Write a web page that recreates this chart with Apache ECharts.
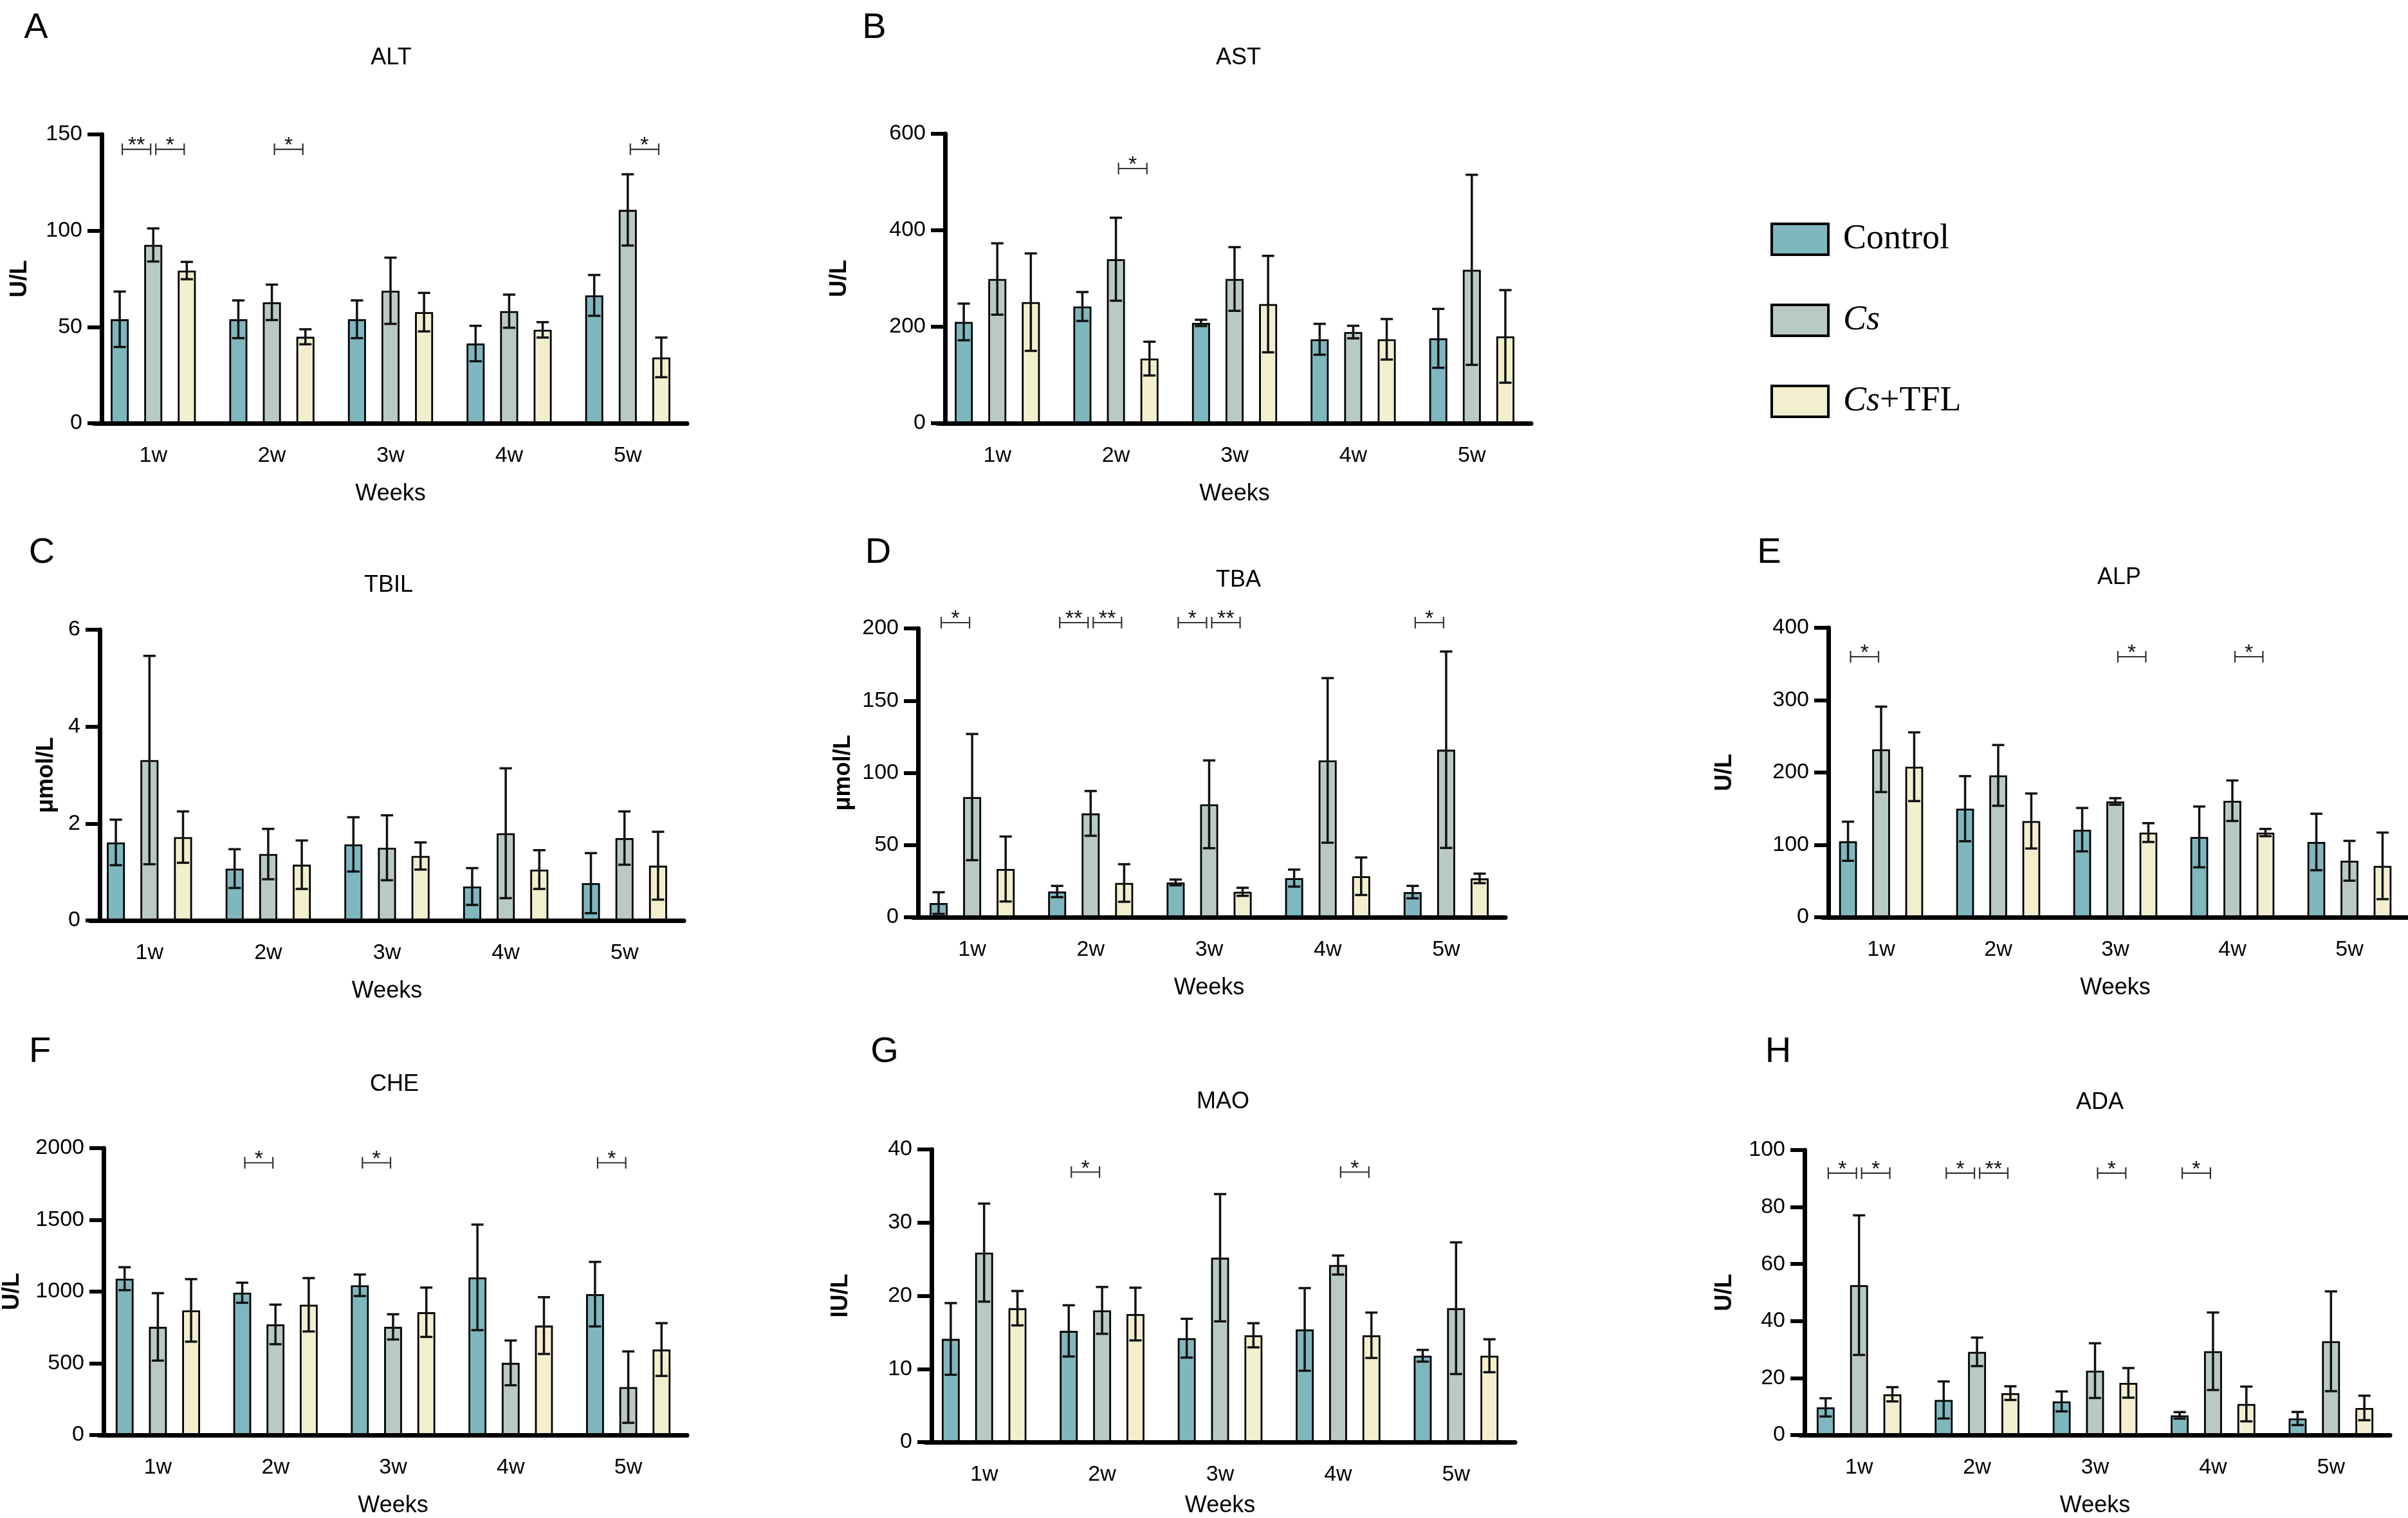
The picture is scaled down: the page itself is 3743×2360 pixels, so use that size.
<!DOCTYPE html>
<html>
<head>
<meta charset="utf-8">
<title>Serum liver indices by week</title>
<script src="https://cdn.jsdelivr.net/npm/echarts@6/dist/echarts.min.js"></script>
<style>
  html, body { margin: 0; padding: 0; background: #fff; }
  #chart { width: 3743px; height: 2360px; }
</style>
</head>
<body>
<div id="chart"></div>
<script>
const weeks = ['1w', '2w', '3w', '4w', '5w'];
const groups = ['Control', 'Cs', 'Cs+TFL'];

// mean and SD per group, one value per week
const altControl = [54, 54, 54, 41.4, 66.4];
const altControlSd = [14.4, 9.8, 9.8, 9.2, 10.6];
const altCs = [92.6, 62.8, 68.8, 58.2, 110.8];
const altCsSd = [8.6, 9.2, 17.2, 8.6, 18.5];
const altTfl = [79.3, 44.9, 57.7, 48.5, 34.2];
const altTflSd = [4.5, 3.9, 10, 4, 10.3];

const astControl = [210, 242, 208, 174, 176];
const astControlSd = [38, 30, 6.5, 32, 61];
const astCs = [299, 340, 299, 189, 318];
const astCsSd = [74, 86, 66, 13, 197];
const astTfl = [251, 134, 247, 174, 180];
const astTflSd = [101, 35, 100, 42, 96];

const tbilControl = [1.61, 1.07, 1.57, 0.70, 0.77];
const tbilControlSd = [0.47, 0.40, 0.56, 0.38, 0.62];
const tbilCs = [3.31, 1.37, 1.50, 1.80, 1.70];
const tbilCsSd = [2.15, 0.52, 0.67, 1.34, 0.55];
const tbilTfl = [1.72, 1.15, 1.33, 1.05, 1.13];
const tbilTflSd = [0.53, 0.50, 0.28, 0.40, 0.70];

const tbaControl = [9.8, 17.8, 24.1, 27.1, 17.4];
const tbaControlSd = [7.5, 3.9, 2, 5.9, 4.3];
const tbaCs = [83.2, 71.9, 78.2, 108.6, 116];
const tbaCsSd = [43.7, 15.5, 30.4, 57, 68];
const tbaTfl = [33.4, 23.7, 17.6, 28.4, 26.9];
const tbaTflSd = [22.5, 13, 2.8, 13, 3.3];

const alpControl = [105, 150, 121, 111, 104];
const alpControlSd = [27, 45, 30, 42, 39];
const alpCs = [232, 196, 160, 161, 78];
const alpCsSd = [59, 42, 4.5, 28, 27.5];
const alpTfl = [208, 133, 117, 117, 71];
const alpTflSd = [47.5, 38, 13, 5, 46];

const cheControl = [1090, 992, 1044, 1099, 982];
const cheControlSd = [80, 70, 75, 368, 225];
const cheCs = [754, 771, 754, 503, 334];
const cheCsSd = [235, 138, 88, 156, 249];
const cheTfl = [869, 908, 856, 763, 596];
const cheTflSd = [218, 186, 172, 198, 184];

const maoControl = [14.1, 15.2, 14.2, 15.4, 11.8];
const maoControlSd = [4.9, 3.5, 2.65, 5.65, 0.8];
const maoCs = [25.9, 18.0, 25.2, 24.2, 18.3];
const maoCsSd = [6.7, 3.2, 8.7, 1.3, 9];
const maoTfl = [18.3, 17.5, 14.6, 14.6, 11.8];
const maoTflSd = [2.35, 3.6, 1.65, 3.1, 2.25];

const adaControl = [9.7, 12.3, 11.8, 6.9, 5.8];
const adaControlSd = [3.2, 6.5, 3.5, 1.15, 2.3];
const adaCs = [52.6, 29.2, 22.6, 29.4, 32.9];
const adaCsSd = [24.5, 5, 9.6, 13.6, 17.5];
const adaTfl = [14.3, 14.7, 18.3, 10.9, 9.5];
const adaTflSd = [2.5, 2.4, 5.2, 6.1, 4.3];

// significance: [week, fromGroup, toGroup, stars]
const altSig = [[0, 0, 1, 2], [0, 1, 2, 1], [1, 1, 2, 1], [4, 1, 2, 1]];
const astSig = [[1, 1, 2, 1]];
const tbilSig = [];
const tbaSig = [[0, 0, 1, 1], [1, 0, 1, 2], [1, 1, 2, 2], [2, 0, 1, 1], [2, 1, 2, 2], [4, 0, 1, 1]];
const alpSig = [[0, 0, 1, 1], [2, 1, 2, 1], [3, 1, 2, 1]];
const cheSig = [[1, 0, 1, 1], [2, 0, 1, 1], [4, 0, 1, 1]];
const maoSig = [[1, 0, 1, 1], [3, 1, 2, 1]];
const adaSig = [[0, 0, 1, 1], [0, 1, 2, 1], [1, 0, 1, 1], [1, 1, 2, 2], [2, 1, 2, 1], [3, 0, 1, 1]];

const SANS = 'Liberation Sans, Arial, Helvetica, sans-serif';
const SERIF = 'Liberation Serif, Times New Roman, serif';
const colors = ['#7fb7be', '#b8cac2', '#f2efcf'];
const BAR_W = 0.152;
const BAR_GAP = 0.86;
const BAR_STEP = BAR_W * (1 + BAR_GAP);

const panels = [
  {letter: 'A', title: 'ALT', unit: 'U/L', max: 150, step: 50,
   means: [altControl, altCs, altTfl], sds: [altControlSd, altCsSd, altTflSd], sig: altSig, sigAt: 142.3,
   box: [146, 209, 922, 449], shift: -12, gapY: 109, gapX: 92, letterAt: [56, 44], titleAt: [608, 90]},
  {letter: 'B', title: 'AST', unit: 'U/L', max: 600, step: 200,
   means: [astControl, astCs, astTfl], sds: [astControlSd, astCsSd, astTflSd], sig: astSig, sigAt: 528,
   box: [1458, 208, 922, 450], shift: -11, gapY: 146, gapX: 92, letterAt: [1359, 44], titleAt: [1925, 90]},
  {letter: 'C', title: 'TBIL', unit: 'μmol/L', max: 6, step: 2,
   means: [tbilControl, tbilCs, tbilTfl], sds: [tbilControlSd, tbilCsSd, tbilTflSd], sig: tbilSig, sigAt: 6,
   box: [140, 979, 923, 452], shift: -15, gapY: 65, gapX: 92, letterAt: [65, 860], titleAt: [604, 910]},
  {letter: 'D', title: 'TBA', unit: 'μmol/L', max: 200, step: 50,
   means: [tbaControl, tbaCs, tbaTfl], sds: [tbaControlSd, tbaCsSd, tbaTflSd], sig: tbaSig, sigAt: 204,
   box: [1419, 977, 921, 449], shift: -8, gapY: 98, gapX: 92, letterAt: [1365, 860], titleAt: [1925, 902]},
  {letter: 'E', title: 'ALP', unit: 'U/L', max: 400, step: 100,
   means: [alpControl, alpCs, alpTfl], sds: [alpControlSd, alpCsSd, alpTflSd], sig: alpSig, sigAt: 360,
   box: [2833, 976, 921, 450], shift: -9, gapY: 143, gapX: 92, letterAt: [2750, 860], titleAt: [3294, 898]},
  {letter: 'F', title: 'CHE', unit: 'U/L', max: 2000, step: 500,
   means: [cheControl, cheCs, cheTfl], sds: [cheControlSd, cheCsSd, cheTflSd], sig: cheSig, sigAt: 1898,
   box: [153, 1785, 915, 451], shift: -7, gapY: 124, gapX: 92, letterAt: [62, 1636], titleAt: [613, 1686]},
  {letter: 'G', title: 'MAO', unit: 'IU/L', max: 40, step: 10,
   means: [maoControl, maoCs, maoTfl], sds: [maoControlSd, maoCsSd, maoTflSd], sig: maoSig, sigAt: 36.9,
   box: [1438, 1787, 917, 458], shift: -10, gapY: 123, gapX: 81, letterAt: [1375, 1636], titleAt: [1901, 1713]},
  {letter: 'H', title: 'ADA', unit: 'U/L', max: 100, step: 20,
   means: [adaControl, adaCs, adaTfl], sds: [adaControlSd, adaCsSd, adaTflSd], sig: adaSig, sigAt: 91.9,
   box: [2798, 1788, 917, 451], shift: -7, gapY: 106, gapX: 92, letterAt: [2764, 1636], titleAt: [3264, 1714]}
];

function drawErrorBar(params, api) {
  const cat = api.value(0), grp = api.value(1), mean = api.value(2), sd = api.value(3);
  const band = api.size([1, 0])[0];
  const dx = (grp - 1) * band * BAR_STEP;
  const hi = api.coord([cat, mean + sd]);
  const lo = api.coord([cat, Math.max(mean - sd, 0)]);
  const x = hi[0] + dx;
  const cap = band * 0.052;
  const style = {stroke: '#111', lineWidth: 3.5};
  return {
    type: 'group',
    children: [
      {type: 'line', shape: {x1: x, y1: hi[1], x2: x, y2: lo[1]}, style: style},
      {type: 'line', shape: {x1: x - cap, y1: hi[1], x2: x + cap, y2: hi[1]}, style: style},
      {type: 'line', shape: {x1: x - cap, y1: lo[1], x2: x + cap, y2: lo[1]}, style: style}
    ]
  };
}

function drawBracket(params, api) {
  const cat = api.value(0), from = api.value(1), to = api.value(2), level = api.value(3), stars = api.value(4);
  const band = api.size([1, 0])[0];
  const c = api.coord([cat, level]);
  const x1 = c[0] + (from - 1) * band * BAR_STEP + 4;
  const x2 = c[0] + (to - 1) * band * BAR_STEP - 4;
  const y = c[1];
  const style = {stroke: '#333', lineWidth: 2.2};
  return {
    type: 'group',
    children: [
      {type: 'line', shape: {x1: x1, y1: y, x2: x2, y2: y}, style: style},
      {type: 'line', shape: {x1: x1, y1: y - 9, x2: x1, y2: y + 9}, style: style},
      {type: 'line', shape: {x1: x2, y1: y - 9, x2: x2, y2: y + 9}, style: style},
      {type: 'text', x: (x1 + x2) / 2, y: y - 5, style: {
        text: '*'.repeat(stars), fontSize: 34, fontFamily: SANS, fill: '#111',
        align: 'center', verticalAlign: 'middle', textAlign: 'center', textVerticalAlign: 'middle'
      }}
    ]
  };
}

const grid = [], xAxis = [], yAxis = [], series = [], graphic = [];

panels.forEach(function (p, i) {
  grid.push({left: p.box[0], top: p.box[1], width: p.box[2], height: p.box[3]});
  xAxis.push({
    type: 'category', gridIndex: i, data: weeks, z: 10,
    name: 'Weeks', nameLocation: 'middle', nameGap: p.gapX,
    nameTextStyle: {fontSize: 36, fontFamily: SANS, color: '#000'},
    axisLine: {lineStyle: {color: '#000', width: 7}},
    axisTick: {alignWithLabel: true, length: 20, lineStyle: {color: '#000', width: 7}},
    axisLabel: {fontSize: 34, fontFamily: SANS, color: '#000', margin: 34},
    splitLine: {show: false}
  });
  yAxis.push({
    type: 'value', gridIndex: i, min: 0, max: p.max, interval: p.step, offset: p.shift, z: 10,
    name: p.unit, nameLocation: 'middle', nameRotate: 90, nameGap: p.gapY,
    nameTextStyle: {fontSize: 36, fontWeight: 'bold', fontFamily: SANS, color: '#000'},
    axisLine: {show: true, lineStyle: {color: '#000', width: 7}},
    axisTick: {show: true, length: 22, lineStyle: {color: '#000', width: 6}},
    axisLabel: {fontSize: 34, fontFamily: SANS, color: '#000', margin: 30,
      formatter: function (v) { return String(v); }},
    splitLine: {show: false}
  });

  const errRows = [];
  groups.forEach(function (g, k) {
    series.push({
      type: 'bar', name: g, xAxisIndex: i, yAxisIndex: i,
      data: p.means[k], barWidth: (BAR_W * 100) + '%', barGap: (BAR_GAP * 100) + '%',
      itemStyle: {color: colors[k], borderColor: '#000', borderWidth: 2.8},
      emphasis: {disabled: true}, silent: true
    });
    p.means[k].forEach(function (m, w) {
      errRows.push([w, k, m, p.sds[k][w]]);
    });
  });

  series.push({
    type: 'custom', xAxisIndex: i, yAxisIndex: i, z: 5, silent: true,
    renderItem: drawErrorBar, encode: {x: 0, y: 2}, data: errRows
  });

  if (p.sig.length) {
    series.push({
      type: 'custom', xAxisIndex: i, yAxisIndex: i, z: 6, silent: true, clip: false,
      renderItem: drawBracket, encode: {x: 0, y: 3},
      data: p.sig.map(function (s) { return [s[0], s[1], s[2], p.sigAt, s[3]]; })
    });
  }

  graphic.push({
    type: 'text', x: p.letterAt[0], y: p.letterAt[1],
    style: {text: p.letter, fontSize: 56, fontFamily: SANS, fill: '#000',
      align: 'center', verticalAlign: 'middle', textAlign: 'center', textVerticalAlign: 'middle'}
  });
  graphic.push({
    type: 'text', x: p.titleAt[0], y: p.titleAt[1],
    style: {text: p.title, fontSize: 36, fontFamily: SANS, fill: '#000',
      align: 'center', verticalAlign: 'middle', textAlign: 'center', textVerticalAlign: 'middle'}
  });
});

const chart = echarts.init(document.getElementById('chart'), null, {renderer: 'canvas'});
chart.setOption({
  backgroundColor: '#fff',
  animation: false,
  grid: grid,
  xAxis: xAxis,
  yAxis: yAxis,
  series: series,
  graphic: graphic,
  legend: {
    data: groups, orient: 'vertical', left: 2747, top: 340,
    icon: 'rect', itemWidth: 88, itemHeight: 48, itemGap: 72, selectedMode: false,
    itemStyle: {borderColor: '#000', borderWidth: 4},
    formatter: function (name) { return name.replace('Cs', '{i|Cs}'); },
    textStyle: {
      fontFamily: SERIF, fontSize: 54, color: '#000', lineHeight: 48, padding: [0, 0, 0, 18],
      rich: {i: {fontFamily: SERIF, fontSize: 54, fontStyle: 'italic', color: '#000', lineHeight: 48}}
    }
  }
});
</script>
</body>
</html>
